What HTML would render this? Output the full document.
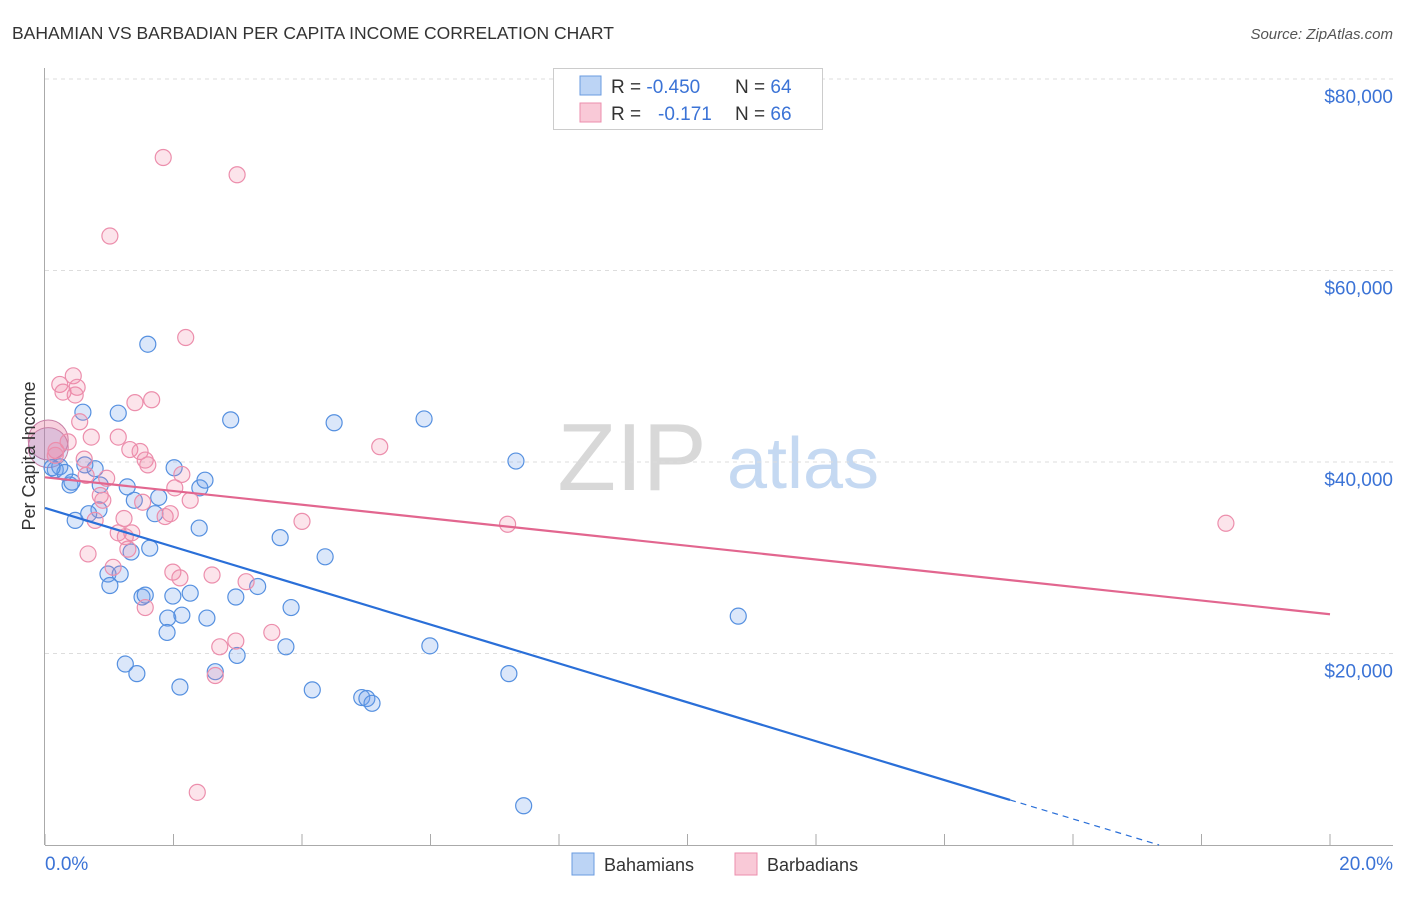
<!DOCTYPE html>
<html><head><meta charset="utf-8"><style>
body{margin:0;background:#fff;}
svg text{font-family:"Liberation Sans",sans-serif;}
</style></head><body>
<svg width="1406" height="892" xmlns="http://www.w3.org/2000/svg">
<text x="12" y="39" font-size="17.5" fill="#333">BAHAMIAN VS BARBADIAN PER CAPITA INCOME CORRELATION CHART</text>
<text x="1393" y="39" font-size="15" fill="#555" font-style="italic" text-anchor="end">Source: ZipAtlas.com</text>
<g>
<text x="632" y="490" font-size="96" fill="#d8d8d8" font-family="Liberation Serif" text-anchor="middle">ZIP</text>
<text x="803" y="488" font-size="72" fill="#c5d9f2" text-anchor="middle">atlas</text>
</g>
<g id="grid"></g>
<g id="axes"></g>
<g id="points"></g>
<g id="lines"></g>
<text transform="translate(35,456) rotate(-90)" font-size="18" fill="#333" text-anchor="middle">Per Capita Income</text>
<g>
<rect x="553.5" y="68.5" width="269" height="61" fill="#fff" stroke="#ccc"/>
<rect x="580" y="76" width="21" height="19" fill="#bcd4f5" stroke="#6a9be0"/>
<rect x="580" y="103" width="21" height="19" fill="#f9c9d7" stroke="#ec8eac"/>
<text x="611" y="93" font-size="19" fill="#333">R = <tspan fill="#3b73d6">-0.450</tspan></text>
<text x="735" y="93" font-size="19" fill="#333">N = <tspan fill="#3b73d6">64</tspan></text>
<text x="611" y="120" font-size="19" fill="#333">R = </text>
<text x="658" y="120" font-size="19" fill="#3b73d6">-0.171</text>
<text x="735" y="120" font-size="19" fill="#333">N = <tspan fill="#3b73d6">66</tspan></text>
</g>
<g>
<rect x="572" y="853" width="22" height="22" fill="#bcd4f5" stroke="#6a9be0"/>
<text x="604" y="871" font-size="18" fill="#333">Bahamians</text>
<rect x="735" y="853" width="22" height="22" fill="#f9c9d7" stroke="#ec8eac"/>
<text x="767" y="871" font-size="18" fill="#333">Barbadians</text>
</g>
</svg>
<script>
const blueX=[1.60,0.59,1.14,2.89,4.50,5.90,7.33,0.16,0.23,0.78,2.01,0.39,0.42,1.28,2.41,1.77,1.39,0.84,0.68,0.47,1.71,2.40,3.66,4.36,1.63,1.34,0.98,1.17,1.01,1.51,1.56,1.99,2.26,2.97,3.31,1.91,2.13,2.52,3.83,1.90,2.99,3.75,5.99,1.25,1.43,2.10,2.65,4.16,4.93,5.01,5.09,7.22,10.79,7.45,0.86,0.31,0.11,0.62,2.49];
const blueY=[52.3,45.2,45.1,44.4,44.1,44.5,40.1,39.2,39.5,39.3,39.4,37.6,37.9,37.4,37.3,36.3,36.0,35.0,34.6,33.9,34.6,33.1,32.1,30.1,31.0,30.6,28.3,28.3,27.1,25.9,26.1,26.0,26.3,25.9,27.0,23.7,24.0,23.7,24.8,22.2,19.8,20.7,20.8,18.9,17.9,16.5,18.1,16.2,15.4,15.3,14.8,17.9,23.9,4.1,37.6,38.9,39.4,39.7,38.1];
const pinkX=[1.84,2.99,1.01,2.19,0.44,0.23,0.28,0.50,1.66,1.40,5.21,0.54,0.72,1.14,0.36,0.17,1.32,1.48,1.56,1.60,0.61,2.13,0.96,0.86,0.90,1.52,2.26,0.78,1.23,1.14,1.35,1.87,1.95,4.00,7.20,18.38,0.67,1.29,1.99,2.10,2.60,3.13,3.53,2.97,2.72,2.65,2.37,1.06,1.56,1.25,0.47,0.64,0.16,2.02];
const pinkY=[71.8,70.0,63.6,53.0,49.0,48.1,47.3,47.8,46.5,46.2,41.6,44.2,42.6,42.6,42.1,41.2,41.3,41.1,40.2,39.7,40.3,38.7,38.3,36.5,36.0,35.8,36.0,33.9,34.1,32.6,32.6,34.3,34.6,33.8,33.5,33.6,30.4,30.9,28.5,27.9,28.2,27.5,22.2,21.3,20.7,17.7,5.5,29.0,24.8,32.2,47.0,38.6,40.7,37.3];
const bigX=[0.05,0.05];
const bigY=[42.3,41.5];
const blueFit=[35.2,-2.03];
const pinkFit=[38.4,-0.715];
const yTicks=[20,40,60,80];
const yTickLabels=["$20,000","$40,000","$60,000","$80,000"];
const xTickCount=10;
const NS="http://www.w3.org/2000/svg";
const X0=45,X1=1330,Y0=845,YK=9.575;
const sx=v=>X0+(v/20)*(X1-X0);
const sy=v=>Y0-v*YK;
function mk(tag,attrs,parent){const e=document.createElementNS(NS,tag);for(const k in attrs)e.setAttribute(k,attrs[k]);document.getElementById(parent).appendChild(e);return e;}
yTicks.forEach((t,i)=>{
 const l=mk('line',{x1:45,x2:1393,y1:sy(t),y2:sy(t),stroke:'#ddd','stroke-dasharray':'4,4'},'grid');
 
 
 const tx=mk('text',{x:1393,y:sy(t)+24,'font-size':19,fill:'#3b73d6','text-anchor':'end'},'grid');
 tx.textContent=yTickLabels[i];
 
 
});
const ya=mk('line',{x1:44.5,x2:44.5,y1:68,y2:845,stroke:'#aaa'},'axes');


const xa=mk('line',{x1:45,x2:1393,y1:845.5,y2:845.5,stroke:'#aaa'},'axes');


for(let i=0;i<=xTickCount;i++){const v=20*i/xTickCount;
 const t=mk('line',{x1:sx(v),x2:sx(v),y1:834,y2:845,stroke:'#aaa'},'axes');
 
 }
const xl0=mk('text',{x:45,y:870,'font-size':19,fill:'#3b73d6'},'axes');xl0.textContent='0.0%';


const xl1=mk('text',{x:1393,y:870,'font-size':19,fill:'#3b73d6','text-anchor':'end'},'axes');xl1.textContent='20.0%';


const bigC=['rgba(235,120,160,0.35)','rgba(120,120,200,0.2)'];
bigX.forEach((x,i)=>{const c=mk('circle',{cx:sx(x),cy:sy(bigY[i]),r:20,fill:bigC[i],stroke:'#c87fa5'},'points');
 
 });
blueX.forEach((x,i)=>{const c=mk('circle',{cx:sx(x),cy:sy(blueY[i]),r:8,fill:'rgba(110,160,235,0.25)',stroke:'#5590e0','stroke-width':1.2},'points');
 
 });
pinkX.forEach((x,i)=>{const c=mk('circle',{cx:sx(x),cy:sy(pinkY[i]),r:8,fill:'rgba(240,130,165,0.22)',stroke:'#ec8eac','stroke-width':1.2},'points');
 
 });
const bEnd=15.02;
const bl=mk('line',{x1:sx(0),y1:sy(blueFit[0]),x2:sx(bEnd),y2:sy(blueFit[0]+blueFit[1]*bEnd),stroke:'#2a6fd8','stroke-width':2.2},'lines');


const bZero=-blueFit[0]/blueFit[1];
const bd=mk('line',{x1:sx(bEnd),y1:sy(blueFit[0]+blueFit[1]*bEnd),x2:sx(bZero),y2:sy(0),stroke:'#2a6fd8','stroke-width':1.2,'stroke-dasharray':'6,5'},'lines');


const pl=mk('line',{x1:sx(0),y1:sy(pinkFit[0]),x2:sx(20),y2:sy(pinkFit[0]+pinkFit[1]*20),stroke:'#e2668f','stroke-width':2.2},'lines');


</script>
</body></html>
